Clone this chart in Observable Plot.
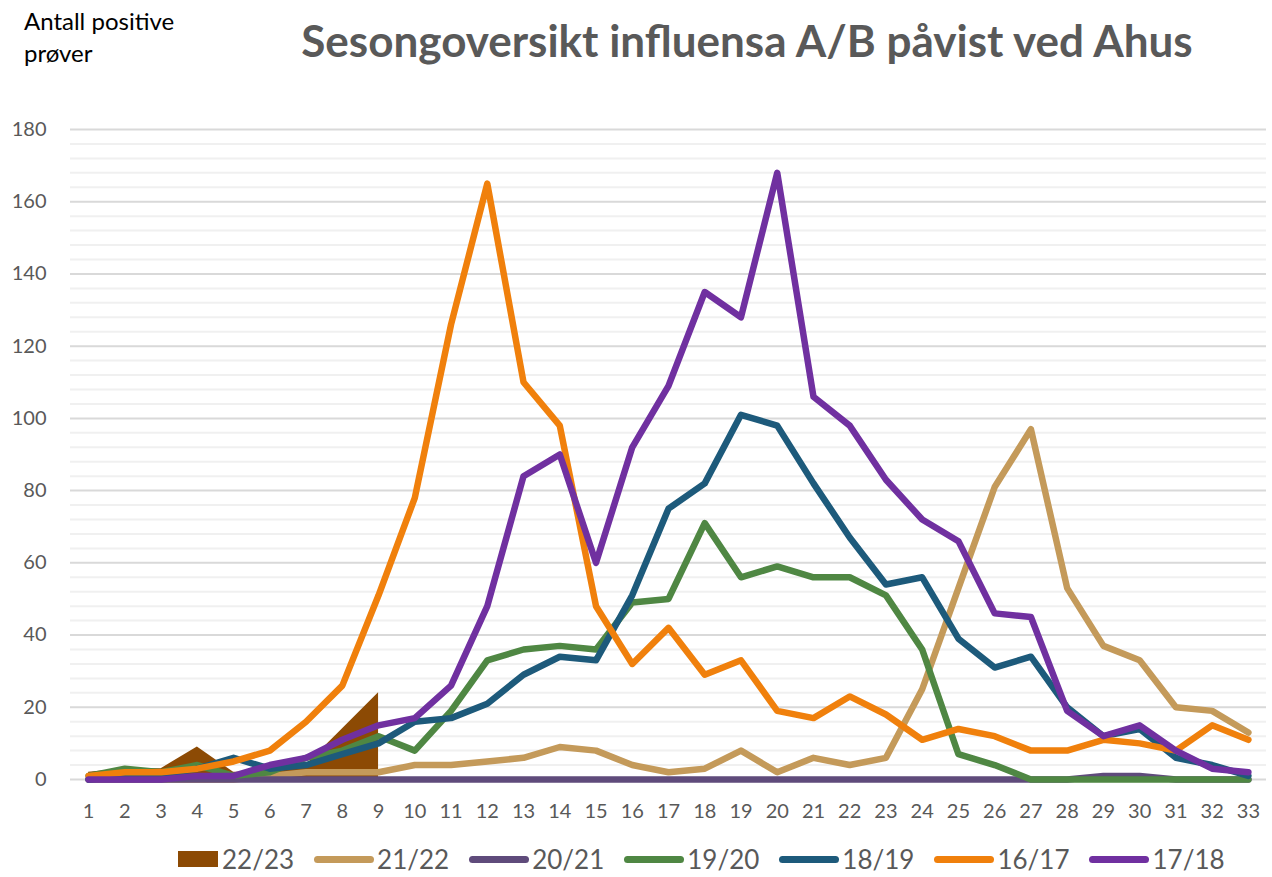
<!DOCTYPE html>
<html>
<head>
<meta charset="utf-8">
<script src="https://cdn.jsdelivr.net/npm/d3@7"></script>
<script src="https://cdn.jsdelivr.net/npm/@observablehq/plot@0.6"></script>
<style>
  body { margin:0; width:1272px; height:877px; position:relative; background:#fff; overflow:hidden; font-family: Lato, "Open Sans", sans-serif; }
  #ylab { position:absolute; left:24px; top:5px; font-size:24px; line-height:32px; color:#000; }
  #title { position:absolute; left:247px; width:1000px; top:14px; text-align:center; font-size:44px; font-weight:bold; color:#595959; }
  #chart { position:absolute; left:0; top:100px; }
  #legend { position:absolute; left:178px; top:843px; display:flex; align-items:center; font-size:26px; color:#595959; }
  .item { display:flex; align-items:center; margin-right:20px; }
  .sw-line { width:60px; height:7px; border-radius:4px; margin-right:3px; }
  .sw-box { width:40px; height:16px; margin-right:4px; }
</style>
</head>
<body>
<div id="ylab">Antall positive<br>prøver</div>
<div id="title">Sesongoversikt influensa A/B påvist ved Ahus</div>
<div id="chart"></div>
<div id="legend"></div>
<script>
// Week categories (x tick labels)
const weeks = [1,2,3,4,5,6,7,8,9,10,11,12,13,14,15,16,17,18,19,20,21,22,23,24,25,26,27,28,29,30,31,32,33];
// Y tick labels
const yTicks = [0,20,40,60,80,100,120,140,160,180];

// Series values (antall positive prøver per uke)
const s2223 = [2,3,3,9,2,2,4,14,24];
const s2122 = [0,0,0,0,0,1,2,2,2,4,4,5,6,9,8,4,2,3,8,2,6,4,6,25,53,81,97,53,37,33,20,19,13];
const s2021 = [0,0,0,0,0,0,0,0,0,0,0,0,0,0,0,0,0,0,0,0,0,0,0,0,0,0,0,0,1,1,0,0,0];
const s1920 = [1,3,2,4,1,2,6,8,12,8,19,33,36,37,36,49,50,71,56,59,56,56,51,36,7,4,0,0,0,0,0,0,0];
const s1819 = [0,1,1,3,6,3,4,7,10,16,17,21,29,34,33,51,75,82,101,98,82,67,54,56,39,31,34,20,12,14,6,4,1];
const s1617 = [1,2,2,3,5,8,16,26,51,78,126,165,110,98,48,32,42,29,33,19,17,23,18,11,14,12,8,8,11,10,8,15,11];
const s1718 = [0,0,0,1,1,4,6,11,15,17,26,48,84,90,60,92,109,135,128,168,106,98,83,72,66,46,45,19,12,15,8,3,2];

const seasonNames = ["22/23","21/22","20/21","19/20","18/19","16/17","17/18"];
const seasonColors = ["#8C4A04","#C49A5A","#5F4B7B","#4F8743","#1D5A7B","#F0800C","#7030A0"];

const toRows = arr => arr.map((v, i) => ({week: weeks[i], value: v}));
const lineSeries = [s2122, s2021, s1920, s1819, s1617, s1718];

const minorTicks = d3.range(0, 181, 4).filter(v => v % 20 !== 0);

const marks = [
  Plot.ruleY(minorTicks, {stroke:"#f0f0f0", strokeWidth:2}),
  Plot.ruleY(yTicks, {stroke:"#d9d9d9", strokeWidth:2}),
  Plot.areaY(toRows(s2223), {x:"week", y:"value", fill:seasonColors[0]}),
  ...lineSeries.map((s, i) => Plot.line(toRows(s), {
    x:"week", y:"value", stroke:seasonColors[i+1], strokeWidth:6.5,
    strokeLinejoin:"round", strokeLinecap:"round"
  })),
  Plot.axisY({ticks: yTicks, tickSize:0, tickPadding:24, fontSize:20, label:null}),
  Plot.axisX({ticks: weeks, tickSize:0, tickPadding:24, fontSize:20, label:null, tickFormat: d => d})
];

const chart = Plot.plot({
  width:1272, height:735,
  marginLeft:70, marginRight:6, marginTop:29, marginBottom:56,
  style:{fontFamily:"Lato, sans-serif", color:"#595959", background:"transparent"},
  x:{type:"linear", domain:[0.5, 33.5], label:null},
  y:{domain:[0,180], label:null},
  marks
});
document.getElementById("chart").appendChild(chart);

// Legend
const legend = document.getElementById("legend");
seasonNames.forEach((name, i) => {
  const item = document.createElement("div");
  item.className = "item";
  const sw = document.createElement("div");
  sw.className = i === 0 ? "sw-box" : "sw-line";
  sw.style.background = seasonColors[i];
  const label = document.createElement("span");
  label.textContent = name;
  item.appendChild(sw); item.appendChild(label);
  legend.appendChild(item);
});
</script>
</body>
</html>
